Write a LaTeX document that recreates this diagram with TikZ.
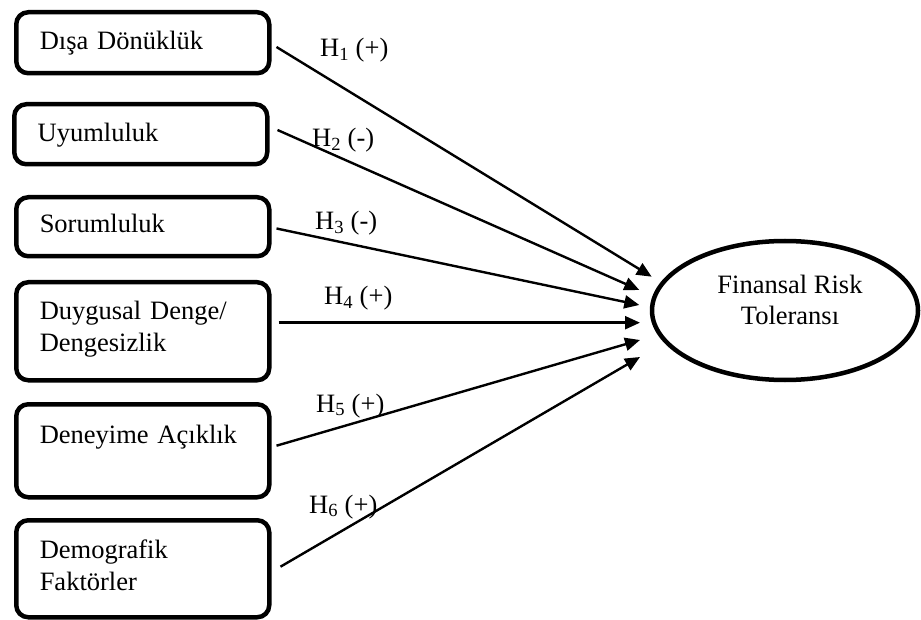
\documentclass[tikz,border=0pt]{standalone}
\usepackage{fontspec}
\setmainfont{Liberation Serif}
\usetikzlibrary{arrows.meta,shapes.geometric,calc}
\begin{document}
\begin{tikzpicture}[x=1pt,y=-1pt,
  fnt/.style={font=\fontsize{26.5}{32}\selectfont},
  factorbox/.style={fnt,draw,line width=4.5pt,rounded corners=12pt,anchor=north west,
    minimum width=253pt,text width=206pt,align=left,inner xsep=23pt,inner ysep=0pt},
  outcome/.style={draw,ellipse,line width=4.5pt,minimum width=266pt,minimum height=139pt,
    inner sep=0pt},
  outtext/.style={fnt,align=center,anchor=base,inner sep=0pt},
  hyp/.style={fnt,anchor=base west,inner sep=0pt},
  link/.style={line width=2.4pt,-{Triangle[length=15pt,width=13pt]}}]
\useasboundingbox (0,0) rectangle (921,620);
\node[factorbox,text height=37pt,text depth=24pt] (b1) at (14,10) {Dışa Dönüklük};
\node[factorbox,text height=37pt,text depth=23pt] (b2) at (12,102) {Uyumluluk};
\node[factorbox,text height=35pt,text depth=24pt] (b3) at (14,195) {Sorumluluk};
\node[factorbox,text height=37pt,text depth=61pt] (b4) at (14,280) {Duygusal Denge/\\Dengesizlik};
\node[factorbox,text height=39pt,text depth=54pt] (b5) at (14,402) {Deneyime Açıklık};
\node[factorbox,text height=38pt,text depth=59pt] (b6) at (14,518) {Demografik\\Faktörler};
\node[outcome] (frt) at (785,310.5) {};
\node[outtext] (frtlabel) at (790,325) {Finansal Risk\\Toleransı};
\coordinate (t1) at (651.7,276.7);
\coordinate (t2) at (639.3,290);
\coordinate (t3) at (639.3,305);
\coordinate (t4) at (640,322.7);
\coordinate (t5) at (640,340);
\coordinate (t6) at (640,357);
\draw[link] (b1.east |- 0,47) ++(5,0) -- (t1);
\draw[link] (b2.east |- 0,130) ++(8,0) -- (t2);
\draw[link] (b3.east |- 0,228.5) ++(5,0) -- (t3);
\draw[link] (b4.east |- 0,322.7) ++(7,0) -- (t4);
\draw[link] (b5.east |- 0,445.7) ++(5,0) -- (t5);
\draw[link] (b6.east |- 0,566.7) ++(9,0) -- (t6);
\node[hyp] (h1) at (320,57) {H\textsubscript{1} (+)};
\node[hyp] (h2) at (312,147) {H\textsubscript{2} (-)};
\node[hyp] (h3) at (315,230) {H\textsubscript{3} (-)};
\node[hyp] (h4) at (324,305) {H\textsubscript{4} (+)};
\node[hyp] (h5) at (316,412) {H\textsubscript{5} (+)};
\node[hyp] (h6) at (309,513) {H\textsubscript{6} (+)};
\end{tikzpicture}
\end{document}
